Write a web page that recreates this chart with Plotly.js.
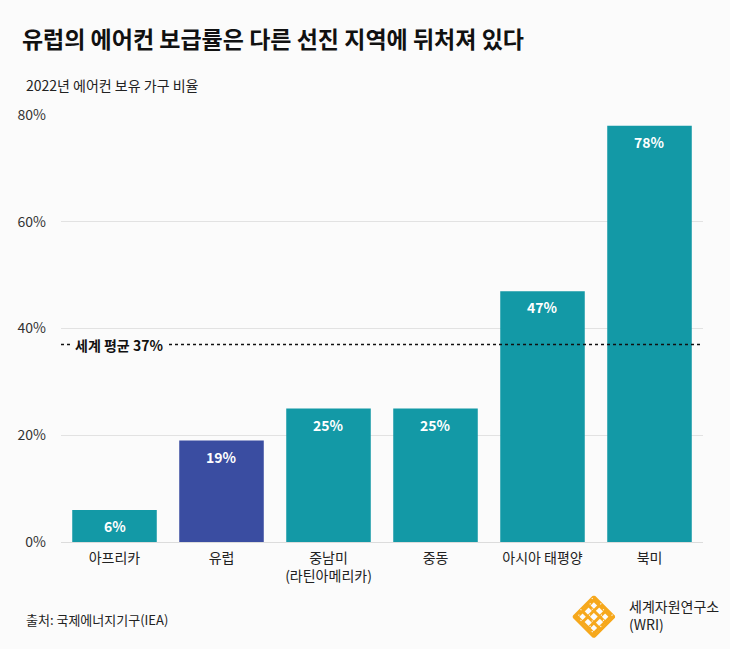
<!DOCTYPE html>
<html>
<head>
<meta charset="utf-8">
<script src="https://cdn.plot.ly/plotly-3.0.1.min.js"></script>
<style>
  html, body { margin: 0; padding: 0; background: #fbfbfb; }
  #chart { width: 730px; height: 649px; }
</style>
</head>
<body>
<div id="chart"></div>
<script>
// 2022년 지역별 에어컨 보유 가구 비율 (%)
const regions = ['아프리카', '유럽', '중남미<br>(라틴아메리카)', '중동', '아시아 태평양', '북미'];
const shares = [6, 19, 25, 25, 47, 78];
const highlight = ['no', 'yes', 'no', 'no', 'no', 'no'];
const worldAverage = 37;
const yTicks = [0, 20, 40, 60, 80];
const yTickLabels = ['0%', '20%', '40%', '60%', '80%'];

const TEAL = '#1399a6';
const BLUE = '#3a4da1';
const BG = '#fbfbfb';
const FONT = '"Noto Sans CJK KR", "Noto Sans", sans-serif';

const barColors = highlight.map(h => h === 'yes' ? BLUE : TEAL);

const bars = {
  type: 'bar',
  x: regions,
  y: shares,
  marker: { color: barColors, line: { width: 0 } },
  hoverinfo: 'skip'
};

// value labels inside the top of each bar
const valueLabels = regions.map((r, i) => ({
  x: r, y: shares[i], xref: 'x', yref: 'y',
  text: '<b>' + shares[i] + '%</b>',
  showarrow: false, yanchor: 'top', yshift: -4,
  font: { family: FONT, size: 14, color: '#ffffff' }
}));

// WRI logo: woven knot drawn as inline SVG
const knot = (() => {
  const c = '#f6a81c';
  let s = '<svg xmlns="http://www.w3.org/2000/svg" viewBox="0 0 100 100">';
  s += '<g transform="rotate(45 50 50)" fill="none" stroke="' + c + '" stroke-width="7">';
  const p = [22, 40, 60, 78];
  p.forEach(v => {
    s += '<line x1="' + v + '" y1="16" x2="' + v + '" y2="84"/>';
    s += '<line x1="16" y1="' + v + '" x2="84" y2="' + v + '"/>';
  });
  s += '<rect x="16" y="16" width="68" height="68"/>';
  s += '</g>';
  // gaps to suggest over/under weaving
  s += '<g transform="rotate(45 50 50)" fill="' + BG + '">';
  p.forEach((vx, i) => p.forEach((vy, j) => {
    if ((i + j) % 2 === 0) s += '<rect x="' + (vx - 7) + '" y="' + (vy - 1.2) + '" width="3" height="2.4"/>';
    else s += '<rect x="' + (vx - 1.2) + '" y="' + (vy - 7) + '" width="2.4" height="3"/>';
  }));
  s += '</g></svg>';
  return 'data:image/svg+xml;base64,' + btoa(s);
})();

const layout = {
  width: 730, height: 649,
  paper_bgcolor: BG, plot_bgcolor: BG,
  margin: { l: 61, r: 27, t: 115, b: 107 },
  showlegend: false,
  bargap: 0.21,
  font: { family: FONT, size: 14, color: '#222' },
  title: {
    text: '<b>유럽의 에어컨 보급률은 다른 선진 지역에 뒤처져 있다</b>',
    x: 0.03, xanchor: 'left', xref: 'container',
    y: 0.938, yanchor: 'middle', yref: 'container',
    font: { family: FONT, size: 23, color: '#111' }
  },
  xaxis: {
    type: 'category',
    range: [-0.5, 5.5],
    showgrid: false, zeroline: false, showline: false,
    ticks: '', ticklabelstandoff: 6,
    tickfont: { family: FONT, size: 14, color: '#222' }
  },
  yaxis: {
    range: [0, 80],
    tickvals: yTicks, ticktext: yTickLabels,
    showgrid: true, gridcolor: '#e2e2e2', gridwidth: 1,
    zeroline: true, zerolinecolor: '#dcdcdc', zerolinewidth: 1,
    showline: false, ticks: '', ticklabelstandoff: 14,
    tickfont: { family: FONT, size: 14, color: '#333' }
  },
  shapes: [{
    type: 'line', xref: 'paper', yref: 'y',
    x0: 0, x1: 1, y0: worldAverage, y1: worldAverage,
    line: { color: '#111', width: 1.5, dash: 'dot' }
  }],
  annotations: valueLabels.concat([
    {
      xref: 'paper', yref: 'y', x: 0, y: worldAverage,
      xanchor: 'left', yanchor: 'middle', xshift: 10,
      text: '<b>세계 평균 ' + worldAverage + '%</b>',
      showarrow: false, bgcolor: BG, borderpad: 3,
      font: { family: FONT, size: 14, color: '#111' }
    },
    {
      xref: 'paper', yref: 'paper', x: -0.057, y: 1.07,
      xanchor: 'left', yanchor: 'middle',
      text: '2022년 에어컨 보유 가구 비율',
      showarrow: false,
      font: { family: FONT, size: 14, color: '#222' }
    },
    {
      xref: 'paper', yref: 'paper', x: -0.057, y: -0.182,
      xanchor: 'left', yanchor: 'middle',
      text: '출처: 국제에너지기구(IEA)',
      showarrow: false,
      font: { family: FONT, size: 13, color: '#222' }
    },
    {
      xref: 'paper', yref: 'paper', x: 0.881, y: -0.172,
      xanchor: 'left', yanchor: 'middle', align: 'left',
      text: '세계자원연구소<br>(WRI)',
      showarrow: false,
      font: { family: FONT, size: 14, color: '#222' }
    }
  ]),
  images: [{
    source: knot,
    xref: 'paper', yref: 'paper',
    x: 0.797, y: -0.126, sizex: 0.066, sizey: 0.098,
    xanchor: 'left', yanchor: 'top', sizing: 'contain', layer: 'above'
  }]
};

Plotly.newPlot('chart', [bars], layout, { displayModeBar: false, staticPlot: true });
</script>
</body>
</html>
